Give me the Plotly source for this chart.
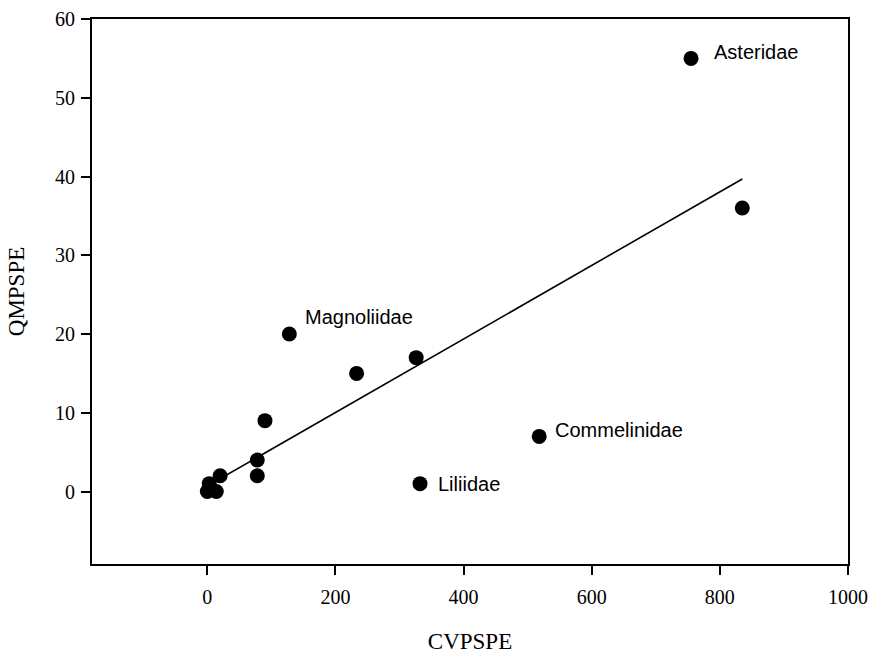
import numpy as np
import plotly.graph_objects as go

# Data
cvpspe = [0, 14, 3, 20, 78, 78, 90, 128, 233, 326, 332, 518, 755, 835]
qmpspe = [0, 0, 1, 2, 2, 4, 9, 20, 15, 17, 1, 7, 55, 36]
labels = ["", "", "", "", "", "", "", "Magnoliidae", "", "", "Liliidae", "Commelinidae", "Asteridae", ""]

x_ticks = [0, 200, 400, 600, 800, 1000]
y_ticks = [0, 10, 20, 30, 40, 50, 60]

x = np.array(cvpspe, dtype=float)
y = np.array(qmpspe, dtype=float)
slope, intercept = np.polyfit(x, y, 1)
xl = np.array([x.min(), x.max()])
yl = slope * xl + intercept

fig = go.Figure()
fig.add_trace(go.Scatter(x=xl, y=yl, mode="lines",
                         line=dict(color="black", width=1.6),
                         hoverinfo="skip", showlegend=False))
fig.add_trace(go.Scatter(x=cvpspe, y=qmpspe, mode="markers",
                         marker=dict(color="black", size=15),
                         showlegend=False))

# label offsets (pixels) per named point
offsets = {"Asteridae": (21, 6), "Magnoliidae": (14, 17),
           "Commelinidae": (14, 6), "Liliidae": (16, 0)}
for xi, yi, lab in zip(cvpspe, qmpspe, labels):
    if lab:
        dx, dy = offsets[lab]
        fig.add_annotation(x=xi, y=yi, text=lab, showarrow=False,
                           xanchor="left", yanchor="middle",
                           xshift=dx, yshift=dy,
                           font=dict(family="Liberation Sans, Arial, sans-serif",
                                     size=20, color="black"))

serif = "Liberation Serif, Times New Roman, serif"
axis_common = dict(showgrid=False, zeroline=False, showline=True,
                   linecolor="black", linewidth=2, mirror=True,
                   ticks="outside", ticklen=9, tickwidth=1.5, tickcolor="black",
                   automargin=False,
                   tickfont=dict(family=serif, size=20, color="black"))

fig.update_layout(
    width=871, height=654,
    margin=dict(l=92, r=23, t=19, b=90, autoexpand=False),
    paper_bgcolor="white", plot_bgcolor="white",
    xaxis=dict(range=[-180, 1000], tickvals=x_ticks,
               ticktext=[str(v) for v in x_ticks],
               ticklabelstandoff=5,
               title=dict(text="CVPSPE", standoff=28,
                          font=dict(family=serif, size=23, color="black")),
               **axis_common),
    yaxis=dict(range=[-9.2, 60], tickvals=y_ticks,
               ticktext=[str(v) for v in y_ticks],
               ticklabelstandoff=2,
               title=dict(text="QMPSPE", standoff=24,
                          font=dict(family=serif, size=23, color="black")),
               **axis_common),
)

fig.write_html("out.html")
